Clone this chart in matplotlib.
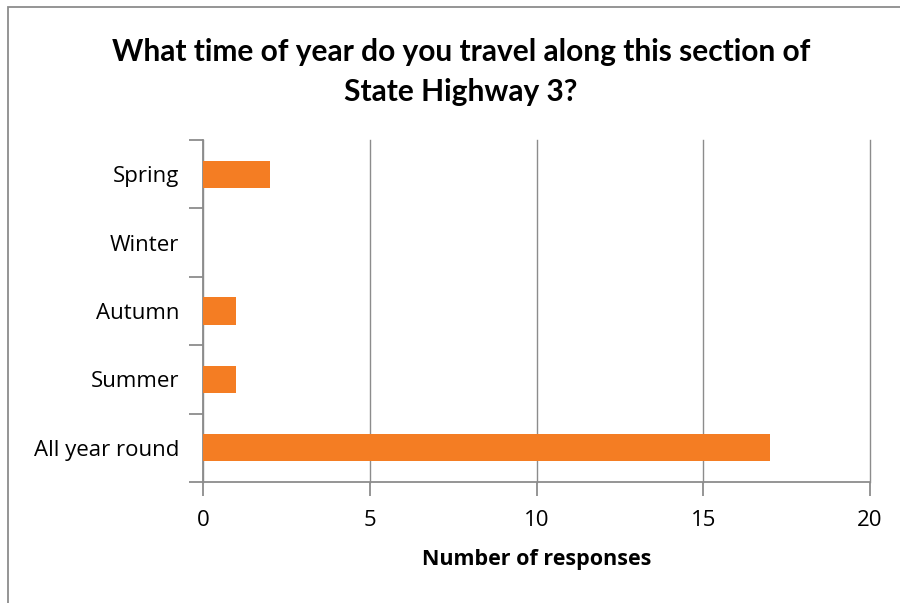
import matplotlib.pyplot as plt
from matplotlib.patches import Rectangle

# data, bottom to top as drawn
categories = ["All year round", "Summer", "Autumn", "Winter", "Spring"]
responses = [17, 1, 1, 0, 2]
x_ticks = [0, 5, 10, 15, 20]

title = "What time of year do you travel along this section of\nState Highway 3?"
bar_color = "#F47D23"
grid_color = "#8C8C8C"

plt.rcParams['font.family'] = ['Open Sans', 'DejaVu Sans']

fig = plt.figure(figsize=(9, 6.03), dpi=100)
ax = fig.add_axes([203 / 900, 121 / 603, 667 / 900, 342 / 603])

y = range(len(categories))
ax.barh(y, responses, height=0.4, color=bar_color, zorder=3)

ax.set_xlim(0, 20)
ax.set_ylim(-0.5, len(categories) - 0.5)
ax.set_xticks(x_ticks)
ax.set_xticklabels([str(t) for t in x_ticks], fontsize=16)
ax.set_yticks([i - 0.5 for i in range(len(categories) + 1)], minor=False)
ax.set_yticklabels([])
ax.set_yticks(list(y), minor=True)
ax.set_yticklabels(categories, minor=True, fontsize=16)
ax.tick_params(axis='y', which='minor', length=0, pad=17)
ax.tick_params(axis='y', which='major', length=10, color=grid_color, width=1.3)
ax.tick_params(axis='x', length=10, color=grid_color, width=1.3, pad=10)

ax.grid(axis='x', color=grid_color, linewidth=1.0, zorder=0)
for line in ax.get_xgridlines():
    line.set_clip_on(False)
for s in ['top', 'right']:
    ax.spines[s].set_visible(False)
for s in ['left', 'bottom']:
    ax.spines[s].set_color(grid_color)
    ax.spines[s].set_linewidth(1.3)

ax.set_xlabel("Number of responses", fontsize=15.5, fontweight='bold', labelpad=13)

fig.text(0.512, 0.881, title, ha='center', va='center', fontsize=21.5,
         fontweight='bold', family=['Lato', 'DejaVu Sans'], linespacing=1.5)

# chart area border
fig.patches.append(Rectangle((8 / 900, -0.05), 1.2, 1.05 - 7 / 603,
                             transform=fig.transFigure, fill=False,
                             edgecolor='#8C8C8C', linewidth=1.3))

fig.savefig("out.png", dpi=100, facecolor='white')
